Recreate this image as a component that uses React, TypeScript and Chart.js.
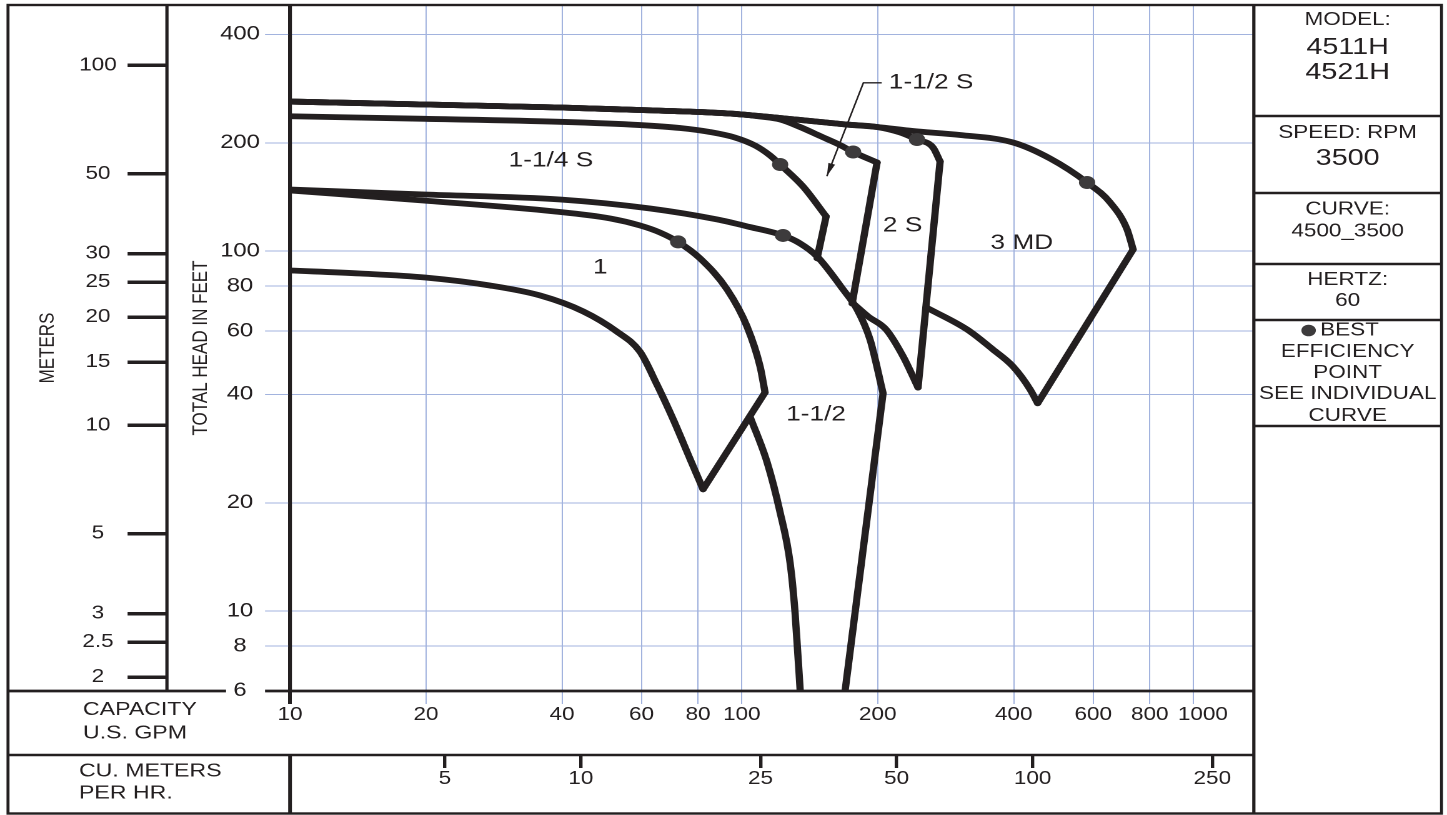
import React, { useEffect, useRef } from 'react';
import { Chart, registerables } from 'chart.js';

Chart.register(...registerables);

// ---------------- axis data ----------------
const GPM_TICKS = [10, 20, 40, 60, 80, 100, 200, 400, 600, 800, 1000];
const FEET_TICKS = [6, 8, 10, 20, 40, 60, 80, 100, 200, 400];
const METER_TICKS = [2, 2.5, 3, 5, 10, 15, 20, 25, 30, 50, 100];
const M3H_TICKS = [5, 10, 25, 50, 100, 250];
const GPM_MIN = 10;
const GPM_MAX = 1360;
const FEET_MIN = 6;
const FEET_MAX = 483;
const FT_PER_M = 3.28084;
const GPM_PER_M3H = 4.40287;

// ---------------- pump "1" ----------------
const P1_MAX_GPM = [10, 19.7, 38.6, 51.1, 59.5, 65.9, 72.3, 80.9, 92.8, 102.7, 109.8, 112.6];
const P1_MAX_FT = [147.5, 138.3, 128.9, 123.3, 117.9, 112.7, 106.1, 95.4, 78.3, 61.8, 47.8, 40.5];
const P1_END_GPM = [112.6, 82.1];
const P1_END_FT = [40.5, 21.8];
const P1_MIN_GPM = [82.1, 76.9, 70.5, 64.9, 59.5, 52.9, 44.6, 35.8, 27.7, 19.9, 14.29, 10];
const P1_MIN_FT = [21.8, 26.4, 34.1, 42.6, 52.6, 59.8, 68.0, 75.3, 80.3, 84.5, 86.7, 88.4];

// ---------------- pump "1-1/4 S" ----------------
const P114S_MAX_GPM = [10, 19.9, 39.6, 59.5, 73.0, 85.1, 96.6, 107.0, 115.6, 121.6, 136.7, 153.7];
const P114S_MAX_FT = [237.1, 233.2, 228.8, 224.1, 219.9, 214.3, 206.9, 196.6, 184.4, 174.1, 151.2, 124.9];
const P114S_END_GPM = [153.7, 146.8];
const P114S_END_FT = [124.9, 95.5];

// ---------------- pump "1-1/2" ----------------
const P112_MAX_GPM = [10, 19.9, 39.6, 62.7, 88.2, 104.3, 123.4, 134.6, 146.8, 167.6, 180.0, 192.3, 205.5];
const P112_MAX_FT = [148.4, 143.7, 139.2, 131.4, 122.5, 116.7, 110.6, 105.1, 96.7, 78.3, 68.9, 56.8, 40.3];
const P112_END_GPM = [205.5, 169.3];
const P112_END_FT = [40.3, 6];
const P112_MIN_GPM = [104.3, 113.8, 121.6, 127.9, 131.2, 134.7];
const P112_MIN_FT = [34.7, 25.9, 18.8, 13.65, 9.92, 6];

// ---------------- pump "1-1/2 S" ----------------
const P112S_MAX_GPM = [10, 19.9, 39.6, 59.5, 80.9, 100.2, 109.8, 121.6, 134.6, 149.1, 165.1, 176.4, 199.3];
const P112S_MAX_FT = [260.4, 255.6, 250.7, 246.7, 243.6, 239.8, 236.7, 232.2, 221.3, 208.9, 197.2, 188.6, 176.4];
const P112S_END_GPM = [199.3, 175.5];
const P112S_END_FT = [176.4, 71.5];

// ---------------- pump "2 S" ----------------
const P2S_MAX_GPM = [10, 19.9, 39.6, 59.5, 80.9, 100.2, 121.6, 171.1, 199.3, 224.1, 244.3, 265.1, 274.8];
const P2S_MAX_FT = [260.4, 255.6, 250.7, 246.7, 243.6, 239.8, 234.4, 224.8, 221.3, 213.7, 204.3, 194.1, 177.5];
const P2S_END_GPM = [274.8, 245.6];
const P2S_END_FT = [177.5, 41.8];
const P2S_MIN_GPM = [245.6, 227.6, 208.7, 190.4, 176.4];
const P2S_MIN_FT = [41.8, 51.0, 60.6, 65.9, 71.6];

// ---------------- pump "3 MD" ----------------
const P3MD_MAX_GPM = [10, 19.9, 39.6, 59.5, 80.9, 100.2, 121.6, 171.1, 199.3, 239.4, 304.3, 398.7, 481.4, 581.3, 653.8, 712.9, 735.0];
const P3MD_MAX_FT = [260.4, 255.6, 250.7, 246.7, 243.6, 239.8, 234.4, 224.8, 221.3, 215.7, 210.3, 200.4, 180.9, 155.2, 136.6, 114.9, 101.1];
const P3MD_END_GPM = [735.0, 451.8];
const P3MD_END_FT = [101.1, 37.8];
const P3MD_MIN_GPM = [451.8, 434.8, 398.7, 359.9, 315.4, 255.9];
const P3MD_MIN_FT = [37.8, 41.3, 47.8, 53.3, 60.6, 69.8];

// ---------------- best efficiency points ----------------
const BEP_GPM = [72.3, 123.4, 121.6, 176.4, 244.3, 581.3];
const BEP_FT = [106.1, 110.6, 174.1, 188.6, 204.3, 155.2];

// ---------------- curve labels ----------------
const CURVE_LABELS = ['1-1/4 S', '1', '1-1/2', '2 S', '3 MD', '1-1/2 S'];
const CURVE_LABEL_GPM = [37.8, 48.6, 146.0, 227, 416.9, 262.5];
const CURVE_LABEL_FT = [178.6, 89.9, 35.1, 117.8, 105.1, 294.2];
const ARROW_GPM = [204.1, 185.9, 154.3];
const ARROW_FT = [293.6, 293.6, 161.6];

// ---------------- texts ----------------
const PANEL_TEXT = ['MODEL:', '4511H', '4521H', 'SPEED: RPM', '3500', 'CURVE:', '4500_3500', 'HERTZ:', '60', 'BEST', 'EFFICIENCY', 'POINT', 'SEE INDIVIDUAL', 'CURVE'];
const CAPTION_TEXT = ['CAPACITY', 'U.S. GPM', 'CU. METERS', 'PER HR.'];
const FEET_TITLE = 'TOTAL HEAD IN FEET';
const METER_TITLE = 'METERS';

// ---------------- layout / style (not data) ----------------
const CANVAS_W = 1158; // logical width, stretched to 1447 px by CSS
const CANVAS_H = 815;
const INK = '#231f20';
const GRID = '#a2b3de';
const DOT = '#3d3b3c';
const FONT = '"Liberation Sans", Arial, Helvetica, sans-serif';
const FRAME = { l: 6.4, t: 5, r: 1153.6, b: 813.5 };
const PANEL_SEPS = [116, 193, 264, 320, 426];
const PANEL_LAYOUT: [number, number][] = [
  [20, 18], [47.5, 23], [72.5, 23], [133, 18], [158.5, 23], [209.5, 18], [231.5, 18],
  [280, 18], [301, 18], [330.5, 18], [352, 18], [373, 18], [394, 18], [416, 18],
];
const CAPTION_LAYOUT: [number, number][] = [[66.4, 710], [66.4, 733.5], [63.2, 771.5], [63.2, 793.5]];

const pts = (xs: number[], ys: number[]) => xs.map((x, i) => ({ x, y: ys[i] }));

const curve = (xs: number[], ys: number[], smooth = true) => ({
  type: 'line',
  data: pts(xs, ys),
  borderColor: INK,
  borderWidth: 5.8,
  pointRadius: 0,
  pointHoverRadius: 0,
  fill: false,
  tension: smooth ? 0.4 : 0,
  cubicInterpolationMode: smooth ? 'monotone' : 'default',
  borderCapStyle: 'round',
  borderJoinStyle: 'round',
  clip: 0,
  order: 1,
});

const setTicks = (vals: number[]) => (s: any) => {
  s.ticks = vals.map((v) => ({ value: v }));
};
const fixW = (w: number) => (s: any) => {
  s.width = w;
  s.paddingTop = 0; s.paddingBottom = 0; s.paddingLeft = 0; s.paddingRight = 0;
};
const fixH = (h: number) => (s: any) => {
  s.height = h;
  s.paddingTop = 0; s.paddingBottom = 0; s.paddingLeft = 0; s.paddingRight = 0;
};
const lbl = (v: any) => String(v);
// the last capacity label sits a little right of its grid line in the original
const gpmLbl = (v: any) => (v === 1000 ? '   1000' : String(v));

function txt(ctx: CanvasRenderingContext2D, s: string, x: number, y: number, size: number, align: CanvasTextAlign = 'center') {
  ctx.font = `${size}px ${FONT}`;
  ctx.textAlign = align;
  ctx.textBaseline = 'middle';
  ctx.fillStyle = INK;
  ctx.fillText(s, x, y);
}

const decorPlugin = {
  id: 'decor',
  afterDatasetsDraw(chart: any) {
    const { ctx, chartArea: ca, scales } = chart;
    const xs = scales.x;
    const ys = scales.y;
    const m3 = scales.m3h;
    const mt = scales.meters;
    ctx.save();
    ctx.strokeStyle = INK;
    ctx.lineCap = 'butt';
    const line = (x1: number, y1: number, x2: number, y2: number, w: number) => {
      ctx.lineWidth = w;
      ctx.beginPath();
      ctx.moveTo(x1, y1);
      ctx.lineTo(x2, y2);
      ctx.stroke();
    };
    // frame
    ctx.lineWidth = 2.4;
    ctx.strokeRect(FRAME.l, FRAME.t, FRAME.r - FRAME.l, FRAME.b - FRAME.t);
    line(mt.right, FRAME.t, mt.right, ca.bottom, 2.6);
    line(ca.left, FRAME.t, ca.left, ca.bottom, 3);
    line(ca.left, m3.top, ca.left, FRAME.b, 3);
    line(ca.right, FRAME.t, ca.right, FRAME.b, 2.6);
    line(FRAME.l, ca.bottom, ca.left - 51.2, ca.bottom, 2.8);
    line(ca.left - 20, ca.bottom, ca.right, ca.bottom, 2.8);
    line(FRAME.l, m3.top, ca.right, m3.top, 2.6);
    PANEL_SEPS.forEach((s) => line(ca.right, s, FRAME.r, s, 2.4));

    // right panel
    const cx = (ca.right + FRAME.r) / 2;
    PANEL_TEXT.forEach((t, i) => {
      const [py, size] = PANEL_LAYOUT[i];
      if (t === 'BEST') {
        ctx.font = `${size}px ${FONT}`;
        const w = ctx.measureText(t).width;
        const r = 5.8;
        const total = 2 * r + 3.5 + w;
        const start = cx - total / 2 - 6;
        ctx.fillStyle = DOT;
        ctx.beginPath();
        ctx.arc(start + r, py, r, 0, Math.PI * 2);
        ctx.fill();
        txt(ctx, t, start + 2 * r + 3.5, py, size, 'left');
      } else {
        txt(ctx, t, cx, py, size);
      }
    });

    // bottom-left captions
    CAPTION_TEXT.forEach((t, i) => {
      const [px, py] = CAPTION_LAYOUT[i];
      txt(ctx, t, px, py, 18.5, 'left');
    });

    // curve labels
    CURVE_LABELS.forEach((t, i) => {
      txt(ctx, t, xs.getPixelForValue(CURVE_LABEL_GPM[i]), ys.getPixelForValue(CURVE_LABEL_FT[i]), 21);
    });

    // arrow for 1-1/2 S
    const ap = ARROW_GPM.map((g, i) => [xs.getPixelForValue(g), ys.getPixelForValue(ARROW_FT[i])]);
    ctx.lineWidth = 1.3;
    ctx.strokeStyle = INK;
    ctx.beginPath();
    ap.forEach(([px, py], i) => (i === 0 ? ctx.moveTo(px, py) : ctx.lineTo(px, py)));
    ctx.stroke();
    const [bx, by] = ap[ap.length - 2];
    const [tx, ty] = ap[ap.length - 1];
    const ang = Math.atan2(ty - by, tx - bx);
    const hl = 13;
    const hw = 2.8;
    ctx.fillStyle = INK;
    ctx.beginPath();
    ctx.moveTo(tx, ty);
    ctx.lineTo(tx - hl * Math.cos(ang) + hw * Math.sin(ang), ty - hl * Math.sin(ang) - hw * Math.cos(ang));
    ctx.lineTo(tx - hl * Math.cos(ang) - hw * Math.sin(ang), ty - hl * Math.sin(ang) + hw * Math.cos(ang));
    ctx.closePath();
    ctx.fill();
    ctx.restore();
  },
};

function buildConfig() {
  const datasets: any[] = [
    {
      type: 'scatter',
      data: pts(BEP_GPM, BEP_FT),
      pointRadius: 6.5,
      pointHoverRadius: 6.5,
      pointBackgroundColor: DOT,
      pointBorderColor: DOT,
      pointBorderWidth: 0,
      showLine: false,
      clip: 0,
      order: 0,
    },
    curve(P1_MAX_GPM, P1_MAX_FT),
    curve(P1_END_GPM, P1_END_FT, false),
    curve(P1_MIN_GPM, P1_MIN_FT),
    curve(P114S_MAX_GPM, P114S_MAX_FT),
    curve(P114S_END_GPM, P114S_END_FT, false),
    curve(P112_MAX_GPM, P112_MAX_FT),
    curve(P112_END_GPM, P112_END_FT, false),
    curve(P112_MIN_GPM, P112_MIN_FT),
    curve(P112S_MAX_GPM, P112S_MAX_FT),
    curve(P112S_END_GPM, P112S_END_FT, false),
    curve(P2S_MAX_GPM, P2S_MAX_FT),
    curve(P2S_END_GPM, P2S_END_FT, false),
    curve(P2S_MIN_GPM, P2S_MIN_FT),
    curve(P3MD_MAX_GPM, P3MD_MAX_FT),
    curve(P3MD_END_GPM, P3MD_END_FT, false),
    curve(P3MD_MIN_GPM, P3MD_MIN_FT),
  ];

  return {
    type: 'line',
    data: { datasets },
    plugins: [decorPlugin],
    options: {
      responsive: false,
      maintainAspectRatio: false,
      animation: false,
      devicePixelRatio: 2,
      events: [],
      layout: { padding: { left: FRAME.l, right: CANVAS_W - 1003.4, top: FRAME.t, bottom: 1 }, autoPadding: false },
      plugins: { legend: { display: false }, tooltip: { enabled: false }, title: { display: false } },
      scales: {
        x: {
          type: 'logarithmic',
          axis: 'x',
          position: 'bottom',
          weight: 0,
          min: GPM_MIN,
          max: GPM_MAX,
          bounds: 'data',
          afterBuildTicks: setTicks(GPM_TICKS),
          afterFit: fixH(64),
          grid: {
            color: (c: any) => (c.tick && c.tick.value === 10 ? INK : GRID),
            lineWidth: (c: any) => (c.tick && c.tick.value === 10 ? 3 : 1),
            tickLength: 13,
          },
          border: { display: false },
          ticks: { autoSkip: false, maxRotation: 0, minRotation: 0, padding: 0, color: INK, font: { family: FONT, size: 18 }, callback: gpmLbl },
        },
        m3h: {
          type: 'logarithmic',
          axis: 'x',
          position: 'bottom',
          weight: 1,
          min: GPM_MIN / GPM_PER_M3H,
          max: GPM_MAX / GPM_PER_M3H,
          bounds: 'data',
          afterBuildTicks: setTicks(M3H_TICKS),
          afterFit: fixH(59),
          grid: { display: true, drawOnChartArea: false, color: INK, lineWidth: 2.7, tickLength: 13 },
          border: { display: false },
          ticks: { autoSkip: false, maxRotation: 0, minRotation: 0, padding: 0, color: INK, font: { family: FONT, size: 18 }, callback: lbl },
        },
        y: {
          type: 'logarithmic',
          axis: 'y',
          position: 'left',
          weight: 0,
          min: FEET_MIN,
          max: FEET_MAX,
          bounds: 'data',
          afterBuildTicks: setTicks(FEET_TICKS),
          afterFit: fixW(98.5),
          grid: { color: GRID, lineWidth: 1, tickLength: 20 },
          border: { display: false },
          ticks: { autoSkip: false, crossAlign: 'center', padding: 4.2, color: INK, font: { family: FONT, size: 19 }, callback: lbl },
          title: { display: true, text: FEET_TITLE, color: INK, font: { family: FONT, size: 17 }, padding: { top: 17, bottom: 0 } },
        },
        meters: {
          type: 'logarithmic',
          axis: 'y',
          position: 'left',
          weight: 1,
          min: FEET_MIN / FT_PER_M,
          max: FEET_MAX / FT_PER_M,
          bounds: 'data',
          afterBuildTicks: setTicks(METER_TICKS),
          afterFit: fixW(127.2),
          grid: { display: true, drawOnChartArea: false, color: INK, lineWidth: 3.5, tickLength: 31.5 },
          border: { display: false },
          ticks: { autoSkip: false, crossAlign: 'center', padding: 8.7, color: INK, font: { family: FONT, size: 18 }, callback: lbl },
          title: { display: true, text: METER_TITLE, color: INK, font: { family: FONT, size: 17 }, padding: { top: 21.6, bottom: 0 } },
        },
      },
    },
  };
}

export default function App() {
  const canvasRef = useRef<HTMLCanvasElement | null>(null);
  useEffect(() => {
    document.body.style.margin = '0';
    document.body.style.overflow = 'hidden';
    const canvas = canvasRef.current;
    if (!canvas) return;
    const chart = new Chart(canvas, buildConfig() as any);
    return () => chart.destroy();
  }, []);
  return (
    <canvas
      ref={canvasRef}
      width={CANVAS_W}
      height={CANVAS_H}
      style={{ display: 'block', width: '1447px', height: '815px' }}
    />
  );
}
